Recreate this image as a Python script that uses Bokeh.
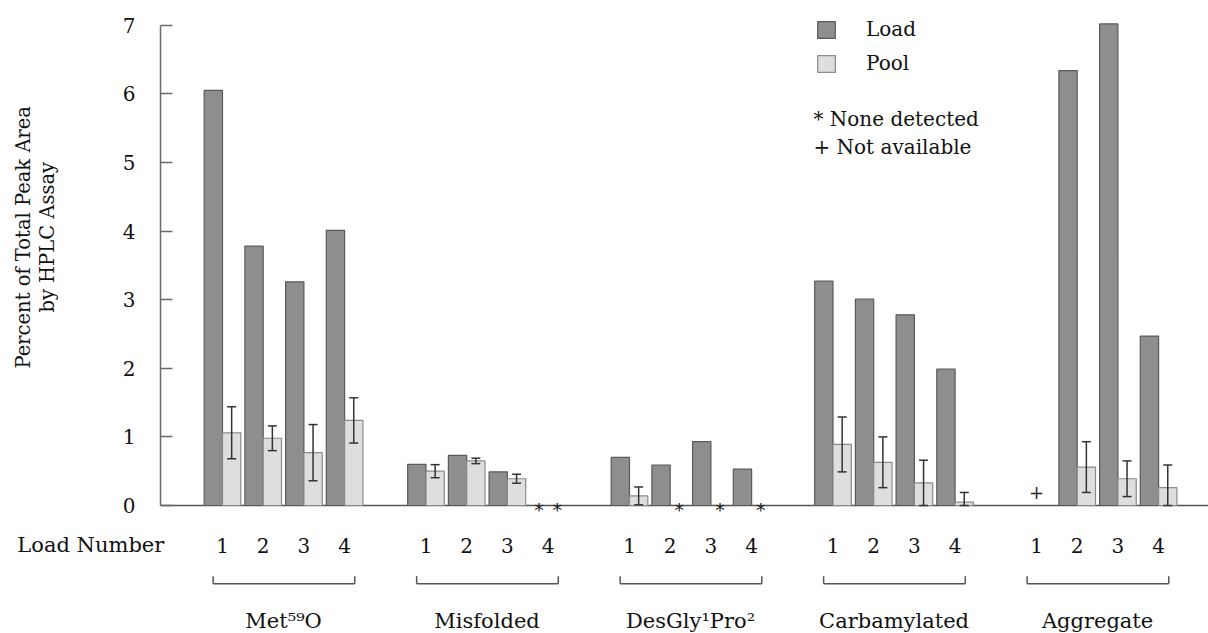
import math
from bokeh.plotting import figure
from bokeh.models import (Range1d, FixedTicker, Whisker, ColumnDataSource,
                          Label, Legend, LegendItem, TeeHead)
from bokeh.core.properties import value
from bokeh.embed import file_html
from bokeh.resources import INLINE

# ---------------- data ----------------
groups = ["Met\u2075\u2079O", "Misfolded", "DesGly\u00b9Pro\u00b2", "Carbamylated", "Aggregate"]
load_numbers = ["1", "2", "3", "4"]
load_pct = [
    [6.05, 3.78, 3.26, 4.01],
    [0.60, 0.73, 0.49, None],
    [0.70, 0.59, 0.93, 0.53],
    [3.27, 3.01, 2.78, 1.99],
    [None, 6.34, 7.02, 2.47],
]
pool_pct = [
    [1.06, 0.98, 0.77, 1.24],
    [0.50, 0.65, 0.39, None],
    [0.14, None, None, None],
    [0.89, 0.63, 0.33, 0.05],
    [None, 0.56, 0.39, 0.26],
]
pool_err = [
    [0.38, 0.18, 0.41, 0.33],
    [0.095, 0.04, 0.065, None],
    [0.13, None, None, None],
    [0.40, 0.37, 0.33, 0.14],
    [None, 0.37, 0.26, 0.33],
]
not_available = [("Aggregate", "1")]
y_ticks = [0, 1, 2, 3, 4, 5, 6, 7]

# ---------------- layout helpers ----------------
GROUP_GAP = 5
BAR_W = 0.45
FONT = "DejaVu Serif"
X0, X1 = -4.4545, 25.226
Y0, Y1 = -1.866, 7.3615
AXIS_X = -0.5233


def xpos(g, k):
    return g * GROUP_GAP + k + 1


load_x, load_top, pool_x, pool_top = [], [], [], []
wb, wlo, whi = [], [], []
star_x, plus_x, num_x, num_t = [], [], [], []
for g, gname in enumerate(groups):
    for k, ln in enumerate(load_numbers):
        x = xpos(g, k)
        num_x.append(x)
        num_t.append(ln)
        if (gname, ln) in not_available:
            plus_x.append(x)
            continue
        if load_pct[g][k] is not None:
            load_x.append(x - BAR_W / 2)
            load_top.append(load_pct[g][k])
        else:
            star_x.append(x - BAR_W / 2)
        if pool_pct[g][k] is not None:
            pool_x.append(x + BAR_W / 2)
            pool_top.append(pool_pct[g][k])
            if pool_err[g][k] is not None:
                wb.append(x + BAR_W / 2)
                wlo.append(max(0.0, pool_pct[g][k] - pool_err[g][k]))
                whi.append(pool_pct[g][k] + pool_err[g][k])
        else:
            star_x.append(x + BAR_W / 2)

p = figure(width=1208, height=633, output_backend="svg", toolbar_location=None,
           x_range=Range1d(X0, X1), y_range=Range1d(Y0, Y1),
           x_axis_type=None, min_border=0)
p.outline_line_color = None
p.ygrid.grid_line_color = None
p.background_fill_color = "white"

yax = p.yaxis[0]
yax.fixed_location = AXIS_X
yax.ticker = FixedTicker(ticks=y_ticks)
yax.bounds = (0, 7)
yax.major_tick_in = 12
yax.major_tick_out = 0
yax.minor_tick_line_color = None
yax.axis_line_color = "#6a6a6a"
yax.axis_line_width = 1.5
yax.major_tick_line_color = "#6a6a6a"
yax.major_tick_line_width = 1.5
yax.major_label_text_font = FONT
yax.major_label_text_font_size = "20px"
yax.major_label_text_color = "#111111"
yax.major_label_standoff = 25

# baseline
p.segment(x0=[AXIS_X], y0=[0], x1=[X1], y1=[0], line_color="#555555", line_width=1.5)

r_load = p.vbar(x=load_x, top=load_top, bottom=0, width=BAR_W,
                fill_color="#8e8e8e", line_color="#5a5a5a", line_width=1.2)
r_pool = p.vbar(x=pool_x, top=pool_top, bottom=0, width=BAR_W,
                fill_color="#dedede", line_color="#8a8a8a", line_width=1.2)

wsrc = ColumnDataSource(dict(base=wb, lower=wlo, upper=whi))
p.add_layout(Whisker(base="base", lower="lower", upper="upper", source=wsrc,
                     level="overlay", line_color="#333333", line_width=1.5,
                     upper_head=TeeHead(size=9, line_color="#333333", line_width=1.5),
                     lower_head=TeeHead(size=9, line_color="#333333", line_width=1.5)))

# markers for missing values
p.text(x=star_x, y=[-0.07] * len(star_x), text=["*"] * len(star_x),
       text_font=value(FONT), text_font_size="18px", text_align="center",
       text_baseline="alphabetic", text_color="#222222")
p.text(x=plus_x, y=[0.19] * len(plus_x), text=["+"] * len(plus_x),
       text_font=value(FONT), text_font_size="18px", text_align="center",
       text_baseline="middle", text_color="#222222")

# load number labels
p.text(x=num_x, y=[-0.58] * len(num_x), text=num_t,
       text_font=value(FONT), text_font_size="20px", text_align="center",
       text_baseline="middle", text_color="#111111")

# brackets and group names
bx0, bx1, bys, bye = [], [], [], []
gx = []
for g in range(len(groups)):
    a = xpos(g, 0) - 0.23
    b = xpos(g, 3) + 0.25
    gx.append((xpos(g, 0) + xpos(g, 3)) / 2)
    bx0 += [a, a, b]
    bx1 += [b, a, b]
    bys += [-1.14, -1.14, -1.14]
    bye += [-1.14, -1.03, -1.03]
p.segment(x0=bx0, y0=bys, x1=bx1, y1=bye, line_color="#555555", line_width=1.5)
p.text(x=gx, y=[-1.69] * len(gx), text=groups,
       text_font=value(FONT), text_font_size="21px", text_align="center",
       text_baseline="middle", text_color="#111111")

# legend
legend = Legend(items=[LegendItem(label="Load", renderers=[r_load]),
                       LegendItem(label="Pool", renderers=[r_pool])],
                location=(815, 558), glyph_width=22, glyph_height=21,
                label_standoff=29, spacing=10, padding=0, margin=0,
                border_line_color=None, background_fill_alpha=0,
                label_text_font=FONT, label_text_font_size="20px",
                label_text_color="#111111")
p.add_layout(legend)

# notes
p.text(x=[15.52, 15.52], y=[5.63, 5.23], text=["* None detected", "+ Not available"],
       text_font=value(FONT), text_font_size="20px", text_align="left",
       text_baseline="middle", text_color="#111111")

# axis titles
p.add_layout(Label(x=-4.04, y=-0.58, text="Load Number", text_font=FONT,
                   text_font_size="21px", text_align="left", text_baseline="middle",
                   text_color="#111111"))
p.add_layout(Label(x=-3.89, y=3.91, text="Percent of Total Peak Area", angle=math.pi / 2,
                   text_font=FONT, text_font_size="19.5px", text_align="center",
                   text_baseline="middle", text_color="#111111"))
p.add_layout(Label(x=-3.30, y=3.91, text="by HPLC Assay", angle=math.pi / 2,
                   text_font=FONT, text_font_size="19.5px", text_align="center",
                   text_baseline="middle", text_color="#111111"))

open("out.html", "w").write(file_html(p, INLINE))
